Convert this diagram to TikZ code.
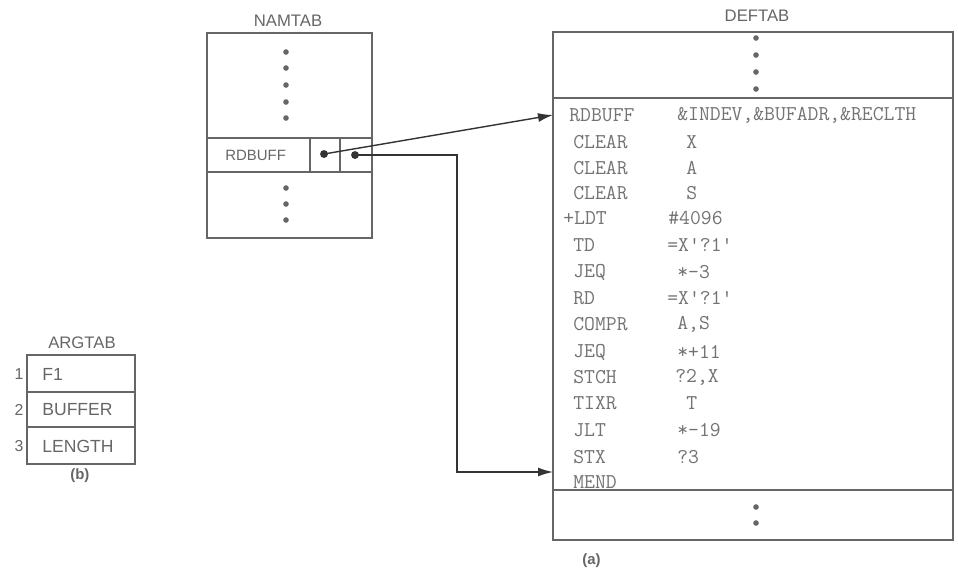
\documentclass[tikz,border=0pt]{standalone}
\usepackage{fontspec}
\setmainfont{Liberation Sans}
\usetikzlibrary{arrows.meta,positioning,calc}

\begin{document}
\begin{tikzpicture}
    [x=0.02cm,y=-0.02cm,>={Latex[length=3mm,width=1.8mm]},
     box/.style={draw=black!60,line width=0.7pt},
     title/.style={font=\fontsize{9.5}{11}\selectfont,text=black!60},
     entry/.style={font=\fontsize{10}{12}\selectfont,text=black!60,anchor=west,inner sep=0pt},
     code/.style={font=\ttfamily\fontsize{12}{14}\selectfont,text=black!55,anchor=west,inner sep=0pt},
     ptr/.style={circle,fill=black!80,inner sep=0pt,minimum size=4.5pt},
     vdot/.style={circle,fill=black!60,inner sep=0pt,minimum size=3.2pt}]

    \useasboundingbox (0,0) rectangle (958,569);

    % NAMTAB
    \draw[box] (207,33) rectangle (372,238);
    \draw[box] (207,138) -- (372,138);
    \draw[box] (207,172) -- (372,172);
    \draw[box] (310,138) -- (310,172);
    \draw[box] (340,138) -- (340,172);
    \node[title] (namtab) at (288,21) {NAMTAB};
    \node[entry,font=\fontsize{8.5}{10}\selectfont] (nrd) at (225,155) {RDBUFF};
    \node[vdot] (na1) at (286,52) {};
    \node[vdot] (na2) at (286,68) {};
    \node[vdot] (na3) at (286,85) {};
    \node[vdot] (na4) at (286,102) {};
    \node[vdot] (na5) at (286,118) {};
    \node[vdot] (nb1) at (286,188) {};
    \node[vdot] (nb2) at (286,204) {};
    \node[vdot] (nb3) at (286,220) {};
    \node[ptr] (p1) at (324,154) {};
    \node[ptr] (p2) at (355,155) {};

    % DEFTAB
    \draw[box] (553,32) rectangle (953,540);
    \draw[box] (553,98) -- (953,98);
    \draw[box] (553,490) -- (953,490);
    \node[title] (deftab) at (757,16) {DEFTAB};
    \node[vdot] (da1) at (756,38) {};
    \node[vdot] (da2) at (756,55) {};
    \node[vdot] (da3) at (756,72) {};
    \node[vdot] (da4) at (756,89) {};
    \node[vdot] (db1) at (756,507) {};
    \node[vdot] (db2) at (756,523) {};

    \node[code] (op1) at (569,115) {RDBUFF};
    \node[code] (arg1) at (677,115) {\&INDEV,\&BUFADR,\&RECLTH};
    \node[code] (op2) at (573,142) {CLEAR};
    \node[code] (arg2) at (686,142) {X};
    \node[code] (op3) at (573,168) {CLEAR};
    \node[code] (arg3) at (686,168) {A};
    \node[code] (op4) at (573,193) {CLEAR};
    \node[code] (arg4) at (686,193) {S};
    \node[code] (op5) at (563,218) {+LDT};
    \node[code] (arg5) at (668,218) {\#4096};
    \node[code] (op6) at (573,245) {TD};
    \node[code] (arg6) at (667,245) {=X'?1'};
    \node[code] (op7) at (573,272) {JEQ};
    \node[code] (arg7) at (677,272) {*-3};
    \node[code] (op8) at (573,298) {RD};
    \node[code] (arg8) at (667,298) {=X'?1'};
    \node[code] (op9) at (573,324) {COMPR};
    \node[code] (arg9) at (677,324) {A,S};
    \node[code] (op10) at (573,352) {JEQ};
    \node[code] (arg10) at (677,352) {*+11};
    \node[code] (op11) at (573,377) {STCH};
    \node[code] (arg11) at (675,377) {?2,X};
    \node[code] (op12) at (573,403) {TIXR};
    \node[code] (arg12) at (686,403) {T};
    \node[code] (op13) at (573,430) {JLT};
    \node[code] (arg13) at (677,430) {*-19};
    \node[code] (op14) at (573,457) {STX};
    \node[code] (arg14) at (677,457) {?3};
    \node[code] (op15) at (573,482) {MEND};
    \node[entry,font=\bfseries\fontsize{8.5}{10}\selectfont] (capa) at (582,561) {(a)};

    \coordinate (d1) at (553,115);
    \coordinate (d2) at (553,472);
    \draw[->,black!80,line width=0.8pt] (p1.center) -- (d1);
    \draw[->,black!80,line width=0.8pt] (p2.center) -- ++(102,0) |- (d2);

    % ARGTAB
    \draw[box] (27,355) rectangle (135,464);
    \draw[box] (27,392) -- (135,392);
    \draw[box] (27,427) -- (135,427);
    \node[title] (argtab) at (82,343) {ARGTAB};
    \node[title,font=\fontsize{9}{10}\selectfont] (n1) at (19,374) {1};
    \node[title,font=\fontsize{9}{10}\selectfont] (n2) at (19,410) {2};
    \node[title,font=\fontsize{9}{10}\selectfont] (n3) at (19,446) {3};
    \node[entry] (a1) at (42,374) {F1};
    \node[entry] (a2) at (42,410) {BUFFER};
    \node[entry] (a3) at (42,446) {LENGTH};
    \node[entry,font=\bfseries\fontsize{8.5}{10}\selectfont] (capb) at (70,476) {(b)};

\end{tikzpicture}
\end{document}
